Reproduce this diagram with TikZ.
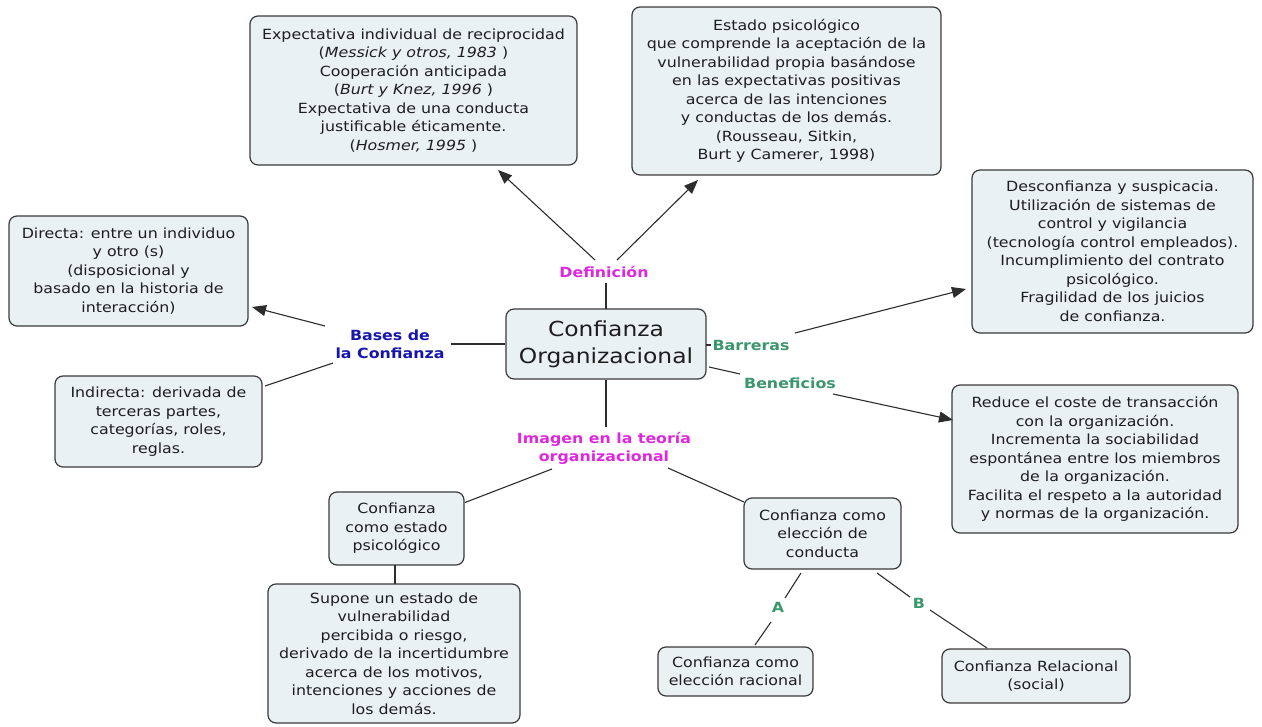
\documentclass[tikz,border=0pt]{standalone}
\usepackage{fontspec}
\setmainfont[FakeStretch=1.13]{DejaVu Sans}
\usetikzlibrary{arrows.meta}
\definecolor{boxfill}{RGB}{234,241,243}
\definecolor{boxline}{RGB}{58,58,58}
\definecolor{txt}{RGB}{30,30,30}
\definecolor{magentalbl}{RGB}{222,40,222}
\definecolor{greenlbl}{RGB}{58,150,108}
\definecolor{bluelbl}{RGB}{22,22,170}
\definecolor{linec}{RGB}{45,45,45}
\tikzset{
  cbox/.style={draw=boxline, line width=1.2pt, rounded corners=8pt, fill=boxfill,
    text=txt, align=center, inner sep=0pt,
    font=\fontsize{14pt}{18.5pt}\selectfont},
  lbl/.style={inner sep=3pt, align=center, font=\fontsize{14pt}{18pt}\selectfont\bfseries},
  conn/.style={draw=linec, line width=1.1pt},
  arr/.style={conn, -{Triangle[length=14pt,width=11pt]}},
}
\begin{document}
\begin{tikzpicture}[x=1pt,y=-1pt]
\useasboundingbox (0,0) rectangle (1262,727);
\fill[white] (0,0) rectangle (1262,727);

% boxes
\node[cbox, minimum width=327pt, minimum height=149pt] (tl) at (413.5,90.5)
 {Expectativa individual de reciprocidad\\(\textit{Messick y otros, 1983} )\\Cooperación anticipada\\(\textit{Burt y Knez, 1996} )\\Expectativa de una conducta\\justificable éticamente.\\(\textit{Hosmer, 1995} )};
\node[cbox, minimum width=309pt, minimum height=168pt] (tr) at (786.5,91)
 {Estado psicológico\\que comprende la aceptación de la\\vulnerabilidad propia basándose\\en las expectativas positivas\\acerca de las intenciones\\y conductas de los demás.\\(Rousseau, Sitkin,\\Burt y Camerer, 1998)};
\node[cbox, minimum width=239pt, minimum height=110pt] (dir) at (128.5,271)
 {Directa: entre un individuo\\y otro (s)\\(disposicional y\\basado en la historia de\\interacción)};
\node[cbox, minimum width=207pt, minimum height=91pt] (ind) at (158.5,421.5)
 {Indirecta: derivada de\\terceras partes,\\categorías, roles,\\reglas.};
\node[cbox, minimum width=200pt, minimum height=70pt, font=\fontsize{20.7pt}{27pt}\selectfont] (cen) at (606,344)
 {Confianza\\Organizacional};
\node[cbox, minimum width=281pt, minimum height=163pt] (barbox) at (1112.5,251.5)
 {Desconfianza y suspicacia.\\Utilización de sistemas de\\control y vigilancia\\(tecnología control empleados).\\Incumplimiento del contrato\\psicológico.\\Fragilidad de los juicios\\de confianza.};
\node[cbox, minimum width=286pt, minimum height=148pt] (benbox) at (1095,459)
 {Reduce el coste de transacción\\con la organización.\\Incrementa la sociabilidad\\espontánea entre los miembros\\de la organización.\\Facilita el respeto a la autoridad\\y normas de la organización.};
\node[cbox, minimum width=135pt, minimum height=73pt] (est) at (396.5,528.5)
 {Confianza\\como estado\\psicológico};
\node[cbox, minimum width=252pt, minimum height=139pt] (sup) at (394,653.5)
 {Supone un estado de\\vulnerabilidad\\percibida o riesgo,\\derivado de la incertidumbre\\acerca de  los motivos,\\intenciones y acciones de\\los demás.};
\node[cbox, minimum width=157pt, minimum height=71pt] (cond) at (822.5,533.5)
 {Confianza como\\elección de\\conducta};
\node[cbox, minimum width=155pt, minimum height=49pt] (rac) at (735.5,671.5)
 {Confianza como\\elección racional};
\node[cbox, minimum width=188pt, minimum height=54pt] (rel) at (1036,676)
 {Confianza Relacional\\(social)};

% labels
\node[lbl, text=magentalbl] (def) at (604,272) {Definición};
\node[lbl, text=bluelbl] (bases) at (390,344) {Bases de\\la Confianza};
\node[lbl, text=greenlbl] (bar) at (751,345) {Barreras};
\node[lbl, text=greenlbl] (ben) at (790,383) {Beneficios};
\node[lbl, text=magentalbl] (img) at (604,448) {Imagen en la teoría\\organizacional};
\node[lbl, text=greenlbl] (A) at (778,607) {A};
\node[lbl, text=greenlbl] (B) at (919,603) {B};

% connectors
\draw[conn] ([shift={(2,11)}]def.center) -- ([shift={(0,-35)}]cen.center);
\draw[arr] ([shift={(-9,-12)}]def.center) -- ([shift={(84.5,79.5)}]tl.center);
\draw[arr] ([shift={(13,-12)}]def.center) -- ([shift={(-88.5,89)}]tr.center);
\draw[conn] ([shift={(61,0)}]bases.center) -- (cen.west);
\draw[arr] ([shift={(-65,-18)}]bases.center) -- ([shift={(123.5,36)}]dir.center);
\draw[conn] ([shift={(-57,19)}]bases.center) -- ([shift={(106.5,-35.5)}]ind.center);
\draw[conn] ([shift={(100,1)}]cen.center) -- ([shift={(-40,0)}]bar.center);
\draw[arr] ([shift={(44,-12)}]bar.center) -- ([shift={(-146.5,37.5)}]barbox.center);
\draw[conn] ([shift={(103,23)}]cen.center) -- ([shift={(-50,-9)}]ben.center);
\draw[arr] ([shift={(43,11)}]ben.center) -- ([shift={(-142,-39)}]benbox.center);
\draw[conn] (cen.south) -- ([shift={(2,-21)}]img.center);
\draw[conn] ([shift={(-52,21)}]img.center) -- ([shift={(68.5,-26)}]est.center);
\draw[conn] ([shift={(64,20)}]img.center) -- ([shift={(-78.5,-31.5)}]cond.center);
\draw[conn] ([shift={(-1.5,36.5)}]est.center) -- ([shift={(1,-69.5)}]sup.center);
\draw[conn] ([shift={(-21.5,39.5)}]cond.center) -- ([shift={(7,-9)}]A.center);
\draw[conn] ([shift={(-7,15)}]A.center) -- ([shift={(19.5,-26.5)}]rac.center);
\draw[conn] ([shift={(54.5,39.5)}]cond.center) -- ([shift={(-9,-6)}]B.center);
\draw[conn] ([shift={(11,7)}]B.center) -- ([shift={(-49,-28)}]rel.center);
\end{tikzpicture}
\end{document}
